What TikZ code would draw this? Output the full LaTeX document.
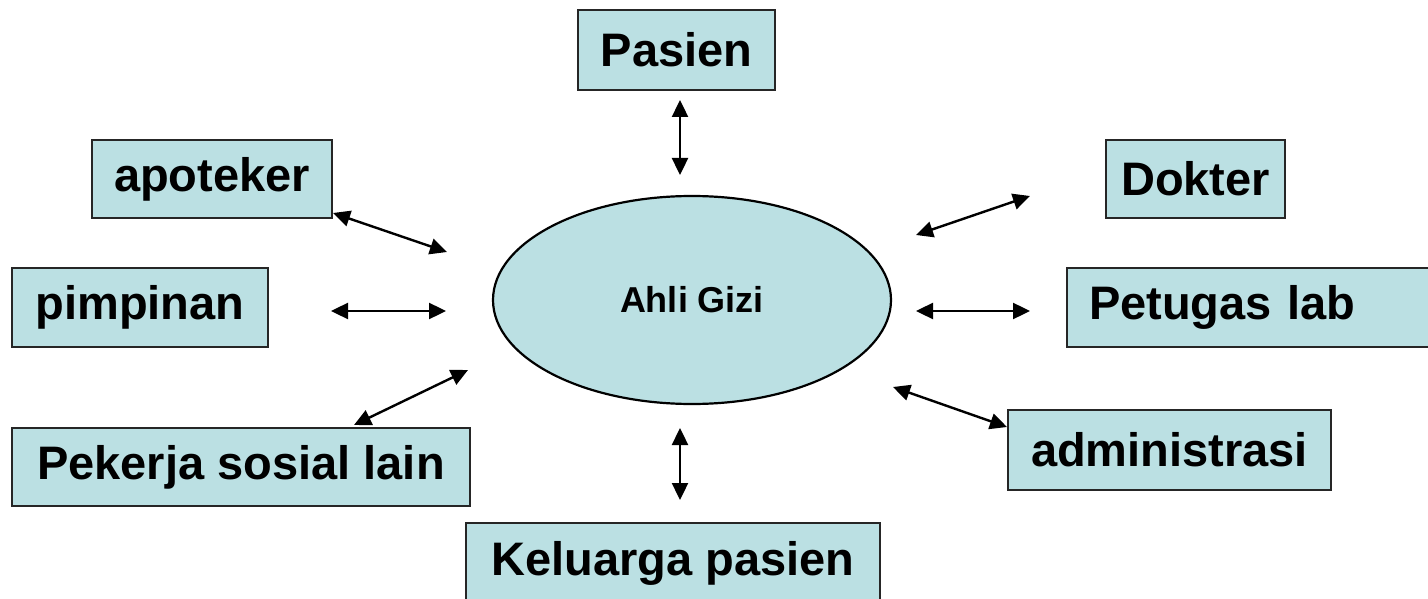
\documentclass[tikz,border=0pt]{standalone}
\usepackage{fontspec}
\setmainfont{Liberation Sans}
\usetikzlibrary{arrows.meta,shapes.geometric}
\definecolor{boxfill}{RGB}{187,224,227}
\tikzset{
  box/.style={draw=black!85, line width=2pt, fill=boxfill, inner sep=0pt,
    font=\bfseries\fontsize{47}{52}\selectfont},
  link/.style={line width=2.4pt, {Triangle[length=17pt,width=16pt]}-{Triangle[length=17pt,width=16pt]}}
}
\begin{document}
\begin{tikzpicture}[x=1pt,y=-1pt]
\clip (0,0) rectangle (1428,599);
\fill[white] (0,0) rectangle (1428,599);
% centre
\node[ellipse, draw=black, line width=2.2pt, fill=boxfill, minimum width=398pt, minimum height=208pt, inner sep=0pt,
  font=\bfseries\fontsize{36}{40}\selectfont] (ahli) at (692,300) {Ahli Gizi};
% boxes
\node[box, minimum width=197pt, minimum height=80pt] (pasien) at (676.5,50) {Pasien};
\node[box, minimum width=240pt, minimum height=78pt] (apoteker) at (212,179) {apoteker};
\node[box, minimum width=179pt, minimum height=78pt] (dokter) at (1195.5,179) {Dokter};
\node[box, minimum width=256pt, minimum height=79pt] (pimpinan) at (140,307.5) {pimpinan};
\node[box, minimum height=79pt, text width=340pt, align=left, inner xsep=22pt, anchor=west] (lab) at (1066,307.5) {Petugas lab};
\node[box, minimum width=458pt, minimum height=78pt] (pekerja) at (241,467) {Pekerja sosial lain};
\node[box, minimum width=323pt, minimum height=80pt] (admin) at (1169.5,450) {administrasi};
\node[box, minimum width=414pt, minimum height=80pt] (keluarga) at (673,563) {Keluarga pasien};
% arrow end points
\coordinate (pA) at (680,100);  \coordinate (pB) at (680,175);
\coordinate (aA) at (333,213);  \coordinate (aB) at (447,252);
\coordinate (mA) at (331,311);  \coordinate (mB) at (446,311);
\coordinate (sA) at (354,425);  \coordinate (sB) at (468,370);
\coordinate (kA) at (680,428);  \coordinate (kB) at (680,500);
\coordinate (dA) at (916,235);  \coordinate (dB) at (1030,196);
\coordinate (lA) at (916,311);  \coordinate (lB) at (1030,311);
\coordinate (xA) at (893,387);  \coordinate (xB) at (1007,427);
\draw[link] (pA) -- (pB);
\draw[link] (aA) -- (aB);
\draw[link] (mA) -- (mB);
\draw[link] (sA) -- (sB);
\draw[link] (kA) -- (kB);
\draw[link] (dA) -- (dB);
\draw[link] (lA) -- (lB);
\draw[link] (xA) -- (xB);
\end{tikzpicture}
\end{document}
